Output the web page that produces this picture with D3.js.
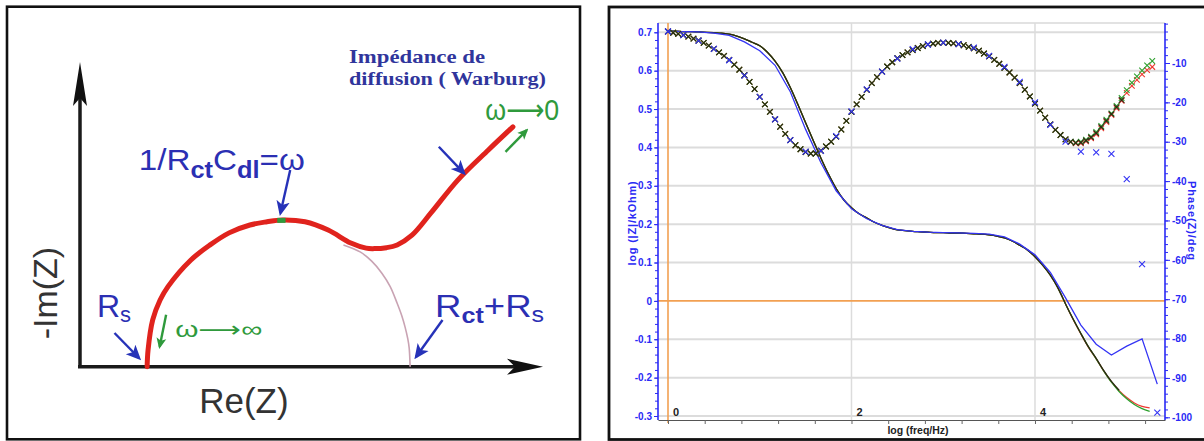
<!doctype html>
<html lang="en">
<head>
<meta charset="utf-8">
<title>Nyquist sketch and Bode plot</title>
<style>
  html, body { margin: 0; padding: 0; background: #fff; }
  svg { display: block; }
</style>
</head>
<body>
<script src="https://cdn.jsdelivr.net/npm/d3@7"></script>
<script>
// ---------- left panel: Nyquist sketch (Re(Z), -Im(Z) in arbitrary units) ----------
const nyqRe = [14.5, 14.7, 15.7, 17.3, 19.0, 23.9, 28.1, 32.2, 36.7, 40.4, 43.7, 48.6, 53.6, 58.5, 61.8, 63.5, 66.2, 68.5, 71.7, 75.8, 81.6, 88.2, 93.5];
const nyqIm = [0, 3.6, 10.1, 14.4, 17.3, 23.0, 26.3, 28.9, 30.6, 31.3, 31.7, 31.3, 29.5, 26.7, 25.6, 25.5, 25.7, 26.3, 28.4, 33.2, 40.3, 46.8, 51.8];
// thin semicircle ending at Rct + Rs
const arcRe = [56.9, 60.5, 63.0, 65.2, 67.0, 68.5, 69.5, 70.2, 70.8, 71.1, 71.3];
const arcIm = [26.3, 24.8, 22.8, 20.2, 17.3, 13.7, 11.0, 8.6, 6.0, 4.0, 0];

// ---------- right panel: Bode plot ----------
// |Z| sampled 12 points per decade
const logF12 = [0, 0.083, 0.167, 0.25, 0.333, 0.417, 0.5, 0.583, 0.667, 0.75, 0.833, 0.917,
  1, 1.083, 1.167, 1.25, 1.333, 1.417, 1.5, 1.583, 1.667, 1.75, 1.833, 1.917,
  2, 2.083, 2.167, 2.25, 2.333, 2.417, 2.5, 2.583, 2.667, 2.75, 2.833, 2.917,
  3, 3.083, 3.167, 3.25, 3.333, 3.417, 3.5, 3.583, 3.667, 3.75, 3.833, 3.917,
  4, 4.083, 4.167, 4.25, 4.333, 4.417, 4.5, 4.583, 4.667, 4.75, 4.833, 4.917,
  5, 5.083, 5.167, 5.25];
// phase markers, 18 per decade
const logF18 = [0, 0.056, 0.111, 0.167, 0.222, 0.278, 0.333, 0.389, 0.444, 0.5, 0.556, 0.611, 0.667, 0.722, 0.778, 0.833, 0.889, 0.944,
  1, 1.056, 1.111, 1.167, 1.222, 1.278, 1.333, 1.389, 1.444, 1.5, 1.556, 1.611, 1.667, 1.722, 1.778, 1.833, 1.889, 1.944,
  2, 2.056, 2.111, 2.167, 2.222, 2.278, 2.333, 2.389, 2.444, 2.5, 2.556, 2.611, 2.667, 2.722, 2.778, 2.833, 2.889, 2.944,
  3, 3.056, 3.111, 3.167, 3.222, 3.278, 3.333, 3.389, 3.444, 3.5, 3.556, 3.611, 3.667, 3.722, 3.778, 3.833, 3.889, 3.944,
  4, 4.056, 4.111, 4.167, 4.222, 4.278, 4.333, 4.389, 4.444, 4.5, 4.556, 4.611, 4.667, 4.722, 4.778, 4.833, 4.889, 4.944,
  5, 5.056, 5.111, 5.167, 5.222, 5.278];
// blue run, 6 per decade
const logF6 = [0, 0.167, 0.333, 0.5, 0.667, 0.833, 1, 1.167, 1.333, 1.5, 1.667, 1.833,
  2, 2.167, 2.333, 2.5, 2.667, 2.833, 3, 3.167, 3.333, 3.5, 3.667, 3.833,
  4, 4.167, 4.333, 4.5, 4.667, 4.833, 5, 5.167, 5.333];

// log |Z| / kOhm
const logZBlack = [0.703, 0.703, 0.702, 0.702, 0.701, 0.700, 0.699, 0.698, 0.695, 0.690, 0.683, 0.674,
  0.665, 0.648, 0.625, 0.595, 0.556, 0.511, 0.464, 0.418, 0.372, 0.330, 0.293, 0.263,
  0.243, 0.227, 0.216, 0.205, 0.197, 0.190, 0.185, 0.183, 0.181, 0.180, 0.179, 0.178,
  0.178, 0.177, 0.177, 0.176, 0.175, 0.174, 0.172, 0.169, 0.164, 0.156, 0.145, 0.133,
  0.115, 0.093, 0.067, 0.034, -0.008, -0.048, -0.085, -0.120, -0.150, -0.182, -0.210, -0.233];
const logZRed = [0.703, 0.703, 0.702, 0.702, 0.701, 0.700, 0.699, 0.698, 0.695, 0.690, 0.683, 0.674,
  0.665, 0.648, 0.625, 0.595, 0.556, 0.511, 0.464, 0.418, 0.372, 0.330, 0.293, 0.263,
  0.243, 0.227, 0.216, 0.205, 0.197, 0.190, 0.185, 0.183, 0.181, 0.180, 0.179, 0.178,
  0.178, 0.177, 0.177, 0.176, 0.175, 0.174, 0.172, 0.169, 0.164, 0.156, 0.145, 0.133,
  0.115, 0.093, 0.067, 0.034, -0.008, -0.049, -0.086, -0.121, -0.151, -0.183, -0.211, -0.234,
  -0.252, -0.266, -0.275, -0.279];
const logZGreen = [0.703, 0.703, 0.702, 0.702, 0.701, 0.700, 0.699, 0.698, 0.695, 0.690, 0.683, 0.674,
  0.665, 0.648, 0.625, 0.595, 0.556, 0.511, 0.464, 0.418, 0.372, 0.330, 0.293, 0.263,
  0.243, 0.227, 0.216, 0.205, 0.197, 0.190, 0.185, 0.183, 0.181, 0.180, 0.179, 0.178,
  0.178, 0.177, 0.177, 0.176, 0.175, 0.174, 0.172, 0.169, 0.164, 0.156, 0.145, 0.133,
  0.115, 0.093, 0.067, 0.034, -0.008, -0.048, -0.085, -0.120, -0.151, -0.183, -0.212, -0.236,
  -0.255, -0.270, -0.281, -0.288];
const logZBlue = [0.703, 0.702, 0.701, 0.698, 0.692, 0.675, 0.652, 0.614, 0.545, 0.447, 0.360, 0.287,
  0.240, 0.214, 0.197, 0.186, 0.181, 0.179, 0.178, 0.177, 0.176, 0.174, 0.167, 0.148,
  0.120, 0.074, 0.008, -0.063, -0.113, -0.141, -0.118, -0.099, -0.217];

// phase / deg (18 per decade)
const phaseBlack = [-2.0, -2.3, -2.6, -2.9, -3.3, -3.8, -4.3, -4.9, -5.6, -6.4, -7.3, -8.2, -9.2, -10.4, -11.7, -13.1, -14.8, -16.6,
  -18.6, -20.5, -22.4, -24.3, -26.2, -28.0, -29.6, -30.9, -31.9, -32.6, -33.0, -33.0, -32.3, -31.2, -30.0, -28.7, -26.9, -24.7,
  -22.4, -20.5, -18.6, -16.8, -15.1, -13.6, -12.2, -10.9, -9.8, -8.8, -8.0, -7.3, -6.7, -6.2, -5.7, -5.3, -5.1, -4.9,
  -4.85, -4.9, -5.0, -5.2, -5.5, -5.9, -6.3, -6.9, -7.6, -8.3, -9.2, -10.2, -11.2, -12.4, -13.7, -15.1, -16.8, -18.5,
  -20.3, -22.1, -23.9, -25.6, -27.0, -28.3, -29.4, -30.0, -30.3, -30.2, -29.7, -28.9, -27.8, -26.3, -24.7, -23.0, -21.2, -19.4];
const phaseRed = [-2.0, -2.3, -2.6, -2.9, -3.3, -3.8, -4.3, -4.9, -5.6, -6.4, -7.3, -8.2, -9.2, -10.4, -11.7, -13.1, -14.8, -16.6,
  -18.6, -20.5, -22.4, -24.3, -26.2, -28.0, -29.6, -30.9, -31.9, -32.6, -33.0, -33.0, -32.3, -31.2, -30.0, -28.7, -26.9, -24.7,
  -22.4, -20.5, -18.6, -16.8, -15.1, -13.6, -12.2, -10.9, -9.8, -8.8, -8.0, -7.3, -6.7, -6.2, -5.7, -5.3, -5.1, -4.9,
  -4.85, -4.9, -5.0, -5.2, -5.5, -5.9, -6.3, -6.9, -7.6, -8.3, -9.2, -10.2, -11.2, -12.4, -13.7, -15.1, -16.8, -18.5,
  -20.3, -22.1, -23.9, -25.6, -27.0, -28.3, -29.4, -30.1, -30.4, -30.4, -29.9, -29.1, -28.1, -26.6, -25.0, -23.2, -21.5, -19.6,
  -17.6, -15.8, -14.3, -12.9, -11.8, -11.0];
const phaseGreen = [-2.0, -2.3, -2.6, -2.9, -3.3, -3.8, -4.3, -4.9, -5.6, -6.4, -7.3, -8.2, -9.2, -10.4, -11.7, -13.1, -14.8, -16.6,
  -18.6, -20.5, -22.4, -24.3, -26.2, -28.0, -29.6, -30.9, -31.9, -32.6, -33.0, -33.0, -32.3, -31.2, -30.0, -28.7, -26.9, -24.7,
  -22.4, -20.5, -18.6, -16.8, -15.1, -13.6, -12.2, -10.9, -9.8, -8.8, -8.0, -7.3, -6.7, -6.2, -5.7, -5.3, -5.1, -4.9,
  -4.85, -4.9, -5.0, -5.2, -5.5, -5.9, -6.3, -6.9, -7.6, -8.3, -9.2, -10.2, -11.2, -12.4, -13.7, -15.1, -16.8, -18.5,
  -20.3, -22.1, -23.9, -25.6, -27.0, -28.3, -29.4, -30.0, -30.2, -30.0, -29.5, -28.7, -27.5, -26.0, -24.4, -22.8, -20.9, -18.9,
  -16.9, -15.0, -13.4, -11.9, -10.6, -9.5];
// blue run (6 per decade)
const phaseBlue = [-2.0, -2.9, -4.3, -6.4, -9.3, -13.2, -18.6, -24.3, -29.6, -32.5, -32.3, -28.6,
  -22.3, -16.7, -12.2, -8.9, -6.5, -5.3, -4.85, -5.2, -6.1, -8.2, -11.0, -14.8,
  -20.0, -25.7, -30.0, -32.5, -32.7, -33.1, -39.5, -61.1, -98.8];

const zTicks = [0.7, 0.6, 0.5, 0.4, 0.3, 0.2, 0.1, 0, -0.1, -0.2, -0.3];
const phaseTicks = [-10, -20, -30, -40, -50, -60, -70, -80, -90, -100];
const freqTicks = [0, 0.4, 0.8, 1.2, 1.6, 2, 2.4, 2.8, 3.2, 3.6, 4, 4.4, 4.8, 5.2];
const freqLabels = [0, 2, 4];

const SANS = '"Liberation Sans", Arial, "DejaVu Sans", sans-serif';
const SERIF = '"Liberation Serif", "DejaVu Serif", serif';

const svg = d3.select('body').append('svg')
  .attr('width', 1204)
  .attr('height', 441)
  .style('font-family', SANS);

// ======================= LEFT PANEL =======================
const left = svg.append('g');
left.append('rect')
  .attr('x', 7).attr('y', 6.7).attr('width', 573).attr('height', 432.6)
  .attr('fill', '#fff').attr('stroke', '#111').attr('stroke-width', 2.6);

const nx = d3.scaleLinear().domain([0, 100]).range([80, 543]);
const ny = d3.scaleLinear().domain([0, 65.8]).range([366.7, 62]);

const defs = svg.append('defs');
function headMarker(id, color, size) {
  defs.append('marker')
    .attr('id', id)
    .attr('viewBox', '0 -5 10 10')
    .attr('refX', 8).attr('refY', 0)
    .attr('markerUnits', 'userSpaceOnUse')
    .attr('markerWidth', size).attr('markerHeight', size)
    .attr('orient', 'auto')
    .append('path')
    .attr('d', 'M0,-4.5L10,0L0,4.5L2.5,0Z')
    .attr('fill', color);
}
headMarker('blueHead', '#2632b8', 15);
headMarker('greenHead', '#2f9a3c', 11);

// axes
left.append('line')
  .attr('x1', nx(0)).attr('y1', ny(0)).attr('x2', nx(0)).attr('y2', ny(65.8) + 20)
  .attr('stroke', '#1a1a1a').attr('stroke-width', 3.5);
left.append('line')
  .attr('x1', nx(0) - 2).attr('y1', ny(0)).attr('x2', nx(100) - 20).attr('y2', ny(0))
  .attr('stroke', '#1a1a1a').attr('stroke-width', 3.5);
left.append('path')
  .attr('transform', `translate(${nx(0)},${ny(65.8)})`)
  .attr('d', 'M0,0L7,44L0,36L-7,44Z')
  .attr('fill', '#111');
left.append('path')
  .attr('transform', `translate(${nx(100)},${ny(0)})`)
  .attr('d', 'M0,0L-36,-8L-28,0L-36,8Z')
  .attr('fill', '#111');

// thin semicircle
const nyqLine = d3.line().curve(d3.curveCatmullRom.alpha(0.5));
left.append('path')
  .attr('d', nyqLine(arcRe.map((r, i) => [nx(r), ny(arcIm[i])])))
  .attr('fill', 'none').attr('stroke', '#c9a3b3').attr('stroke-width', 1.6);

// red impedance curve
left.append('path')
  .attr('d', nyqLine(nyqRe.map((r, i) => [nx(r), ny(nyqIm[i])])))
  .attr('fill', 'none').attr('stroke', '#e0231d').attr('stroke-width', 5)
  .attr('stroke-linecap', 'round');

// green spot at the apex
left.append('line')
  .attr('x1', nx(42.6)).attr('y1', ny(31.6)).attr('x2', nx(44.4)).attr('y2', ny(31.6))
  .attr('stroke', '#2f9a3c').attr('stroke-width', 5);

// annotation arrows
const arrows = [
  { from: [7.45, 7.28], to: [12.74, 1.88], head: 'blueHead', color: '#2632b8' },
  { from: [78.3, 10.1], to: [72.6, 2.16], head: 'blueHead', color: '#2632b8' },
  { from: [45.4, 42.5], to: [43.3, 33.2], head: 'blueHead', color: '#2632b8' },
  { from: [77.5, 47.5], to: [82.9, 41.8], head: 'blueHead', color: '#2632b8' },
  { from: [18.6, 11.2], to: [17.2, 4.3], head: 'greenHead', color: '#2f9a3c' },
  { from: [91.9, 46.4], to: [96.5, 51.1], head: 'greenHead', color: '#2f9a3c' }
];
left.selectAll('line.arrow')
  .data(arrows)
  .enter()
  .append('line')
  .attr('class', 'arrow')
  .attr('x1', (d) => nx(d.from[0])).attr('y1', (d) => ny(d.from[1]))
  .attr('x2', (d) => nx(d.to[0])).attr('y2', (d) => ny(d.to[1]))
  .attr('stroke', (d) => d.color).attr('stroke-width', 2.4)
  .attr('marker-end', (d) => `url(#${d.head})`);

// axis titles
left.append('text')
  .attr('transform', `translate(${nx(-4.9)},${ny(15.9)}) rotate(-90)`)
  .attr('text-anchor', 'middle')
  .attr('font-size', 34).attr('fill', '#333')
  .text('-Im(Z)');
left.append('text')
  .attr('x', nx(35.4)).attr('y', ny(-10))
  .attr('text-anchor', 'middle')
  .attr('font-size', 35).attr('fill', '#333')
  .text('Re(Z)');

// blue labels
const blue = '#2b2fb3';
const rs = left.append('text')
  .attr('x', nx(3.67)).attr('y', ny(10.7))
  .attr('font-size', 32).attr('fill', blue);
rs.append('tspan').text('R');
rs.append('tspan').attr('font-size', 22).attr('dy', 5).text('s');

const rct = left.append('text')
  .attr('x', nx(76.7)).attr('y', ny(10.7))
  .attr('font-size', 32).attr('fill', blue)
  .attr('textLength', 109).attr('lengthAdjust', 'spacingAndGlyphs');
rct.append('tspan').text('R');
rct.append('tspan').attr('font-size', 22).attr('dy', 6).attr('font-weight', 'bold').text('ct');
rct.append('tspan').attr('dy', -6).text('+R');
rct.append('tspan').attr('font-size', 22).attr('dy', 5).text('s');

const rc = left.append('text')
  .attr('x', nx(12.7)).attr('y', ny(42.5))
  .attr('font-size', 30).attr('fill', blue)
  .attr('textLength', 166).attr('lengthAdjust', 'spacingAndGlyphs');
rc.append('tspan').text('1/R');
rc.append('tspan').attr('font-size', 23).attr('dy', 8).attr('font-weight', 'bold').text('ct');
rc.append('tspan').attr('dy', -8).text('C');
rc.append('tspan').attr('font-size', 23).attr('dy', 8).attr('font-weight', 'bold').text('dl');
rc.append('tspan').attr('dy', -8).text('=ω');

left.append('text')
  .attr('x', nx(58.1)).attr('y', ny(65.6))
  .style('font-family', SERIF)
  .attr('font-weight', 'bold').attr('font-size', 19).attr('fill', '#30359c')
  .attr('textLength', 136).attr('lengthAdjust', 'spacingAndGlyphs')
  .text('Impédance de');
left.append('text')
  .attr('x', nx(58.1)).attr('y', ny(60.8))
  .style('font-family', SERIF)
  .attr('font-weight', 'bold').attr('font-size', 19).attr('fill', '#30359c')
  .attr('textLength', 197).attr('lengthAdjust', 'spacingAndGlyphs')
  .text('diffusion ( Warburg)');

left.append('text')
  .attr('x', nx(87.5)).attr('y', ny(53.3))
  .attr('font-size', 30).attr('fill', '#2f9a3c')
  .attr('textLength', 74).attr('lengthAdjust', 'spacingAndGlyphs')
  .text('ω⟶0');
left.append('text')
  .attr('x', nx(20.6)).attr('y', ny(6.4))
  .attr('font-size', 22).attr('fill', '#2f9a3c')
  .attr('textLength', 87).attr('lengthAdjust', 'spacingAndGlyphs')
  .text('ω⟶∞');

// ======================= RIGHT PANEL =======================
const right = svg.append('g');
right.append('rect')
  .attr('x', 609).attr('y', 7).attr('width', 620).attr('height', 432.5)
  .attr('fill', '#fff').attr('stroke', '#111').attr('stroke-width', 2.8);

const plot = { left: 658, right: 1165, top: 23, bottom: 420 };
const bx = d3.scaleLinear().domain([-0.109, 5.417]).range([plot.left, plot.right]);
const byZ = d3.scaleLinear().domain([-0.3, 0.7]).range([416, 32.3]);
const byP = d3.scaleLinear().domain([-100, -10]).range([417.3, 63]);

// grid
right.append('line')
  .attr('x1', plot.left).attr('x2', plot.right).attr('y1', plot.top).attr('y2', plot.top)
  .attr('stroke', '#e2e2e2').attr('stroke-width', 2);
right.append('g')
  .selectAll('line')
  .data(zTicks.filter((d) => d !== 0))
  .enter()
  .append('line')
  .attr('x1', plot.left).attr('x2', plot.right)
  .attr('y1', (d) => byZ(d)).attr('y2', (d) => byZ(d))
  .attr('stroke', '#dcdcdc').attr('stroke-width', 2);
right.append('g')
  .selectAll('line')
  .data([2, 4])
  .enter()
  .append('line')
  .attr('x1', (d) => bx(d)).attr('x2', (d) => bx(d))
  .attr('y1', plot.top).attr('y2', plot.bottom)
  .attr('stroke', '#dcdcdc').attr('stroke-width', 1.5);
// orange zero lines
right.append('line')
  .attr('x1', plot.left).attr('x2', plot.right).attr('y1', byZ(0)).attr('y2', byZ(0))
  .attr('stroke', '#f2a052').attr('stroke-width', 1.6);
right.append('line')
  .attr('x1', bx(0)).attr('x2', bx(0)).attr('y1', plot.top).attr('y2', plot.bottom + 3)
  .attr('stroke', '#f2a052').attr('stroke-width', 1.6);

// bottom axis
const xAxis = d3.axisBottom(bx).tickValues(freqTicks).tickSize(4).tickSizeOuter(0).tickFormat('');
const gx = right.append('g')
  .attr('transform', `translate(0,${plot.bottom})`)
  .call(xAxis);
gx.select('.domain').attr('stroke', '#555').attr('stroke-width', 1.2);
gx.selectAll('.tick line').attr('stroke', '#666');
right.append('g')
  .selectAll('text')
  .data(freqLabels)
  .enter()
  .append('text')
  .attr('x', (d) => bx(d) + 5)
  .attr('y', plot.bottom - 4)
  .attr('font-size', 11).attr('font-weight', 'bold').attr('fill', '#222')
  .text((d) => d);
right.append('text')
  .attr('x', 918).attr('y', 434)
  .attr('text-anchor', 'middle')
  .attr('font-size', 10.5).attr('font-weight', 'bold').attr('fill', '#222')
  .text('log (freq/Hz)');

// left axis (blue)
const axisBlue = '#2a2af5';
const zMinor = d3.axisLeft(byZ).tickValues(d3.range(-30, 72, 2).map((d) => d / 100)).tickSize(3).tickFormat('');
const gzm = right.append('g').attr('transform', `translate(${plot.left},0)`).call(zMinor);
gzm.select('.domain').remove();
gzm.selectAll('.tick line').attr('stroke', axisBlue);
const zAxis = d3.axisLeft(byZ).tickValues(zTicks).tickSize(4).tickPadding(2).tickFormat((d) => String(d));
const gz = right.append('g').attr('transform', `translate(${plot.left},0)`).call(zAxis);
gz.select('.domain').remove();
gz.selectAll('.tick line').attr('stroke', axisBlue);
gz.selectAll('.tick text')
  .attr('fill', axisBlue).attr('font-size', 10).attr('font-weight', 'bold')
  .style('font-family', SANS);
right.append('line')
  .attr('x1', plot.left).attr('x2', plot.left).attr('y1', plot.top).attr('y2', plot.bottom)
  .attr('stroke', axisBlue).attr('stroke-width', 1.6);
right.append('text')
  .attr('transform', `translate(636,223) rotate(-90)`)
  .attr('text-anchor', 'middle')
  .attr('font-size', 11).attr('font-weight', 'bold').attr('letter-spacing', 0.8)
  .attr('fill', axisBlue)
  .text('log (|Z|/kOhm)');

// right axis (blue)
const pMinor = d3.axisRight(byP).tickValues(d3.range(-100, 1, 2)).tickSize(3).tickFormat('');
const gpm = right.append('g').attr('transform', `translate(${plot.right},0)`).call(pMinor);
gpm.select('.domain').remove();
gpm.selectAll('.tick line').attr('stroke', axisBlue);
gpm.selectAll('.tick').filter((d) => byP(d) < plot.top - 1).remove();
const pAxis = d3.axisRight(byP).tickValues(phaseTicks).tickSize(5).tickPadding(2).tickFormat((d) => String(d));
const gp = right.append('g').attr('transform', `translate(${plot.right},0)`).call(pAxis);
gp.select('.domain').remove();
gp.selectAll('.tick line').attr('stroke', axisBlue);
gp.selectAll('.tick text')
  .attr('fill', axisBlue).attr('font-size', 10).attr('font-weight', 'bold')
  .style('font-family', SANS);
right.append('line')
  .attr('x1', plot.right).attr('x2', plot.right).attr('y1', plot.top).attr('y2', plot.bottom)
  .attr('stroke', axisBlue).attr('stroke-width', 1.6);
right.append('text')
  .attr('transform', `translate(1188,221) rotate(90)`)
  .attr('text-anchor', 'middle')
  .attr('font-size', 11).attr('font-weight', 'bold').attr('letter-spacing', 0.9)
  .attr('fill', axisBlue)
  .text('Phase(Z)/deg');

// series
const series = [
  { color: '#ee3a32', zf: logF12, z: logZRed, pf: logF18, p: phaseRed, r: 2.8, curve: d3.curveMonotoneX },
  { color: '#2ea02e', zf: logF12, z: logZGreen, pf: logF18, p: phaseGreen, r: 2.8, curve: d3.curveMonotoneX },
  { color: '#2a2812', zf: logF12, z: logZBlack, pf: logF18, p: phaseBlack, r: 2.8, curve: d3.curveMonotoneX },
  { color: '#3434f4', zf: logF6, z: logZBlue, pf: logF6, p: phaseBlue, r: 3, curve: d3.curveLinear }
];
const crossPath = (r) => `M${-r},${-r}L${r},${r}M${-r},${r}L${r},${-r}`;

series.forEach((s) => {
  const line = d3.line().curve(s.curve);
  right.append('path')
    .attr('d', line(s.z.map((v, i) => [bx(s.zf[i]), byZ(v)])))
    .attr('fill', 'none')
    .attr('stroke', s.color)
    .attr('stroke-width', 1.3);
});
series.forEach((s) => {
  right.append('g')
    .selectAll('path')
    .data(s.p)
    .enter()
    .append('path')
    .attr('transform', (d, i) => `translate(${bx(s.pf[i])},${byP(d)})`)
    .attr('d', crossPath(s.r))
    .attr('fill', 'none')
    .attr('stroke', s.color)
    .attr('stroke-width', 1.1);
});
</script>
</body>
</html>
